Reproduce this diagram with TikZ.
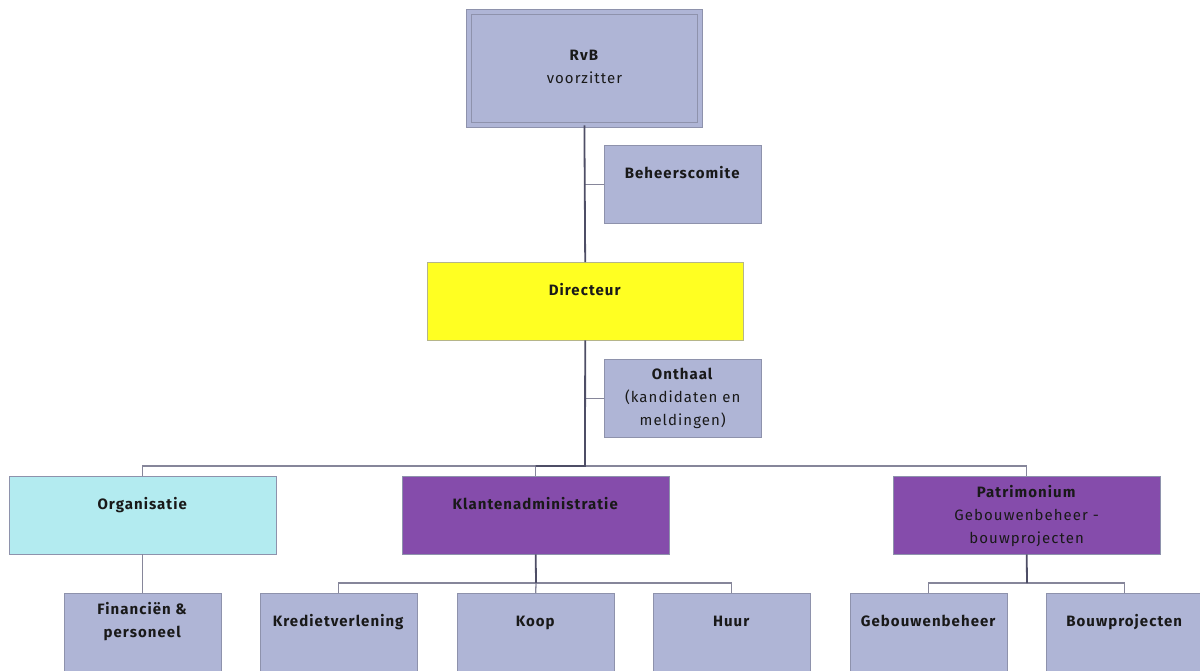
\documentclass[tikz,border=0pt]{standalone}
\usepackage{fontspec}
\setmainfont[LetterSpace=7]{Fira Sans}
\usepackage{tikz}
\usetikzlibrary{positioning}

\definecolor{lav}{HTML}{AFB5D6}
\definecolor{boxline}{HTML}{8E92AC}
\definecolor{dirfill}{HTML}{FFFF22}
\definecolor{dirline}{HTML}{B5B58A}
\definecolor{orgfill}{HTML}{B3EBF0}
\definecolor{purp}{HTML}{854CAB}
\definecolor{trunkcol}{HTML}{4E4E66}
\definecolor{linkcol}{HTML}{86869A}

\begin{document}
\begin{tikzpicture}[x=1pt, y=-1pt]
  \useasboundingbox (0,0) rectangle (1200,670);
  \clip (0,0) rectangle (1200,670);

  \tikzset{org_box/.style={draw=boxline, fill=lav, anchor=north west, inner sep=0pt,
      minimum width=157pt, minimum height=78pt, align=center, text=black!90,
      text height=12pt, text depth=24pt, font=\fontsize{15}{23}\selectfont}}
  \tikzset{wide_box/.style={org_box, minimum width=267pt}}
  \tikzset{last_line/.style={text height=#1-10pt, text depth=68pt-#1}}
  \tikzset{trunk/.style={draw=trunkcol, line width=1.8pt}}
  \tikzset{link/.style={draw=linkcol, line width=1.3pt}}

  % top
  \node[org_box, minimum width=231pt, minimum height=113pt, double=lav, double distance=4pt,
        line width=0.8pt, text height=34pt, text depth=4pt] (rvb) at (468.5,11.5) {\textbf{RvB}\\voorzitter};
  \node[org_box] (beh) at (604,145) {\textbf{Beheerscomite}};
  \node[org_box, fill=dirfill, draw=dirline, minimum width=316pt] (dir) at (427,262) {\textbf{Directeur}};
  \node[org_box, last_line=66pt] (ont) at (604,359) {\textbf{Onthaal}\\(kandidaten en\\meldingen)};

  % departments
  \node[wide_box, fill=orgfill] (org) at (9,476) {\textbf{Organisatie}};
  \node[wide_box, fill=purp] (klant) at (402,476) {\textbf{Klantenadministratie}};
  \node[wide_box, fill=purp, last_line=67pt] (pat) at (893,476) {\textbf{Patrimonium}\\Gebouwenbeheer -\\bouwprojecten};

  % services
  \node[org_box, last_line=44pt] (fin) at (64,593) {\textbf{Financiën \&}\\\textbf{personeel}};
  \node[org_box] (kred) at (260,593) {\textbf{Kredietverlening}};
  \node[org_box] (koop) at (457,593) {\textbf{Koop}};
  \node[org_box] (huur) at (653,593) {\textbf{Huur}};
  \node[org_box] (geb) at (850,593) {\textbf{Gebouwenbeheer}};
  \node[org_box] (bouw) at (1046,593) {\textbf{Bouwprojecten}};

  \coordinate (bus) at (585,466);
  \coordinate (kbus) at (536,583);
  \coordinate (pbus) at (1027,583);

  \draw[link] (beh.west) -- (beh.west -| dir.north);
  \draw[link] (ont.west) -- (ont.west -| dir.north);

  \draw[link] (org.north) |- (bus) -| (pat.north);
  \draw[link] (klant.north) -- (klant.north |- bus);
  \draw[link] (org.south) -- (fin.north);
  \draw[trunk] (rvb.south) -- (dir.north);
  \draw[trunk] (dir.south) -- (bus) -- (klant.north |- bus);

  \draw[link] (kred.north) |- (kbus) -| (huur.north);
  \draw[link] (koop.north) -- (kbus);
  \draw[trunk] (klant.south) -- (kbus);

  \draw[link] (geb.north) |- (pbus) -| (bouw.north);
  \draw[trunk] (pat.south) -- (pbus);
\end{tikzpicture}
\end{document}
